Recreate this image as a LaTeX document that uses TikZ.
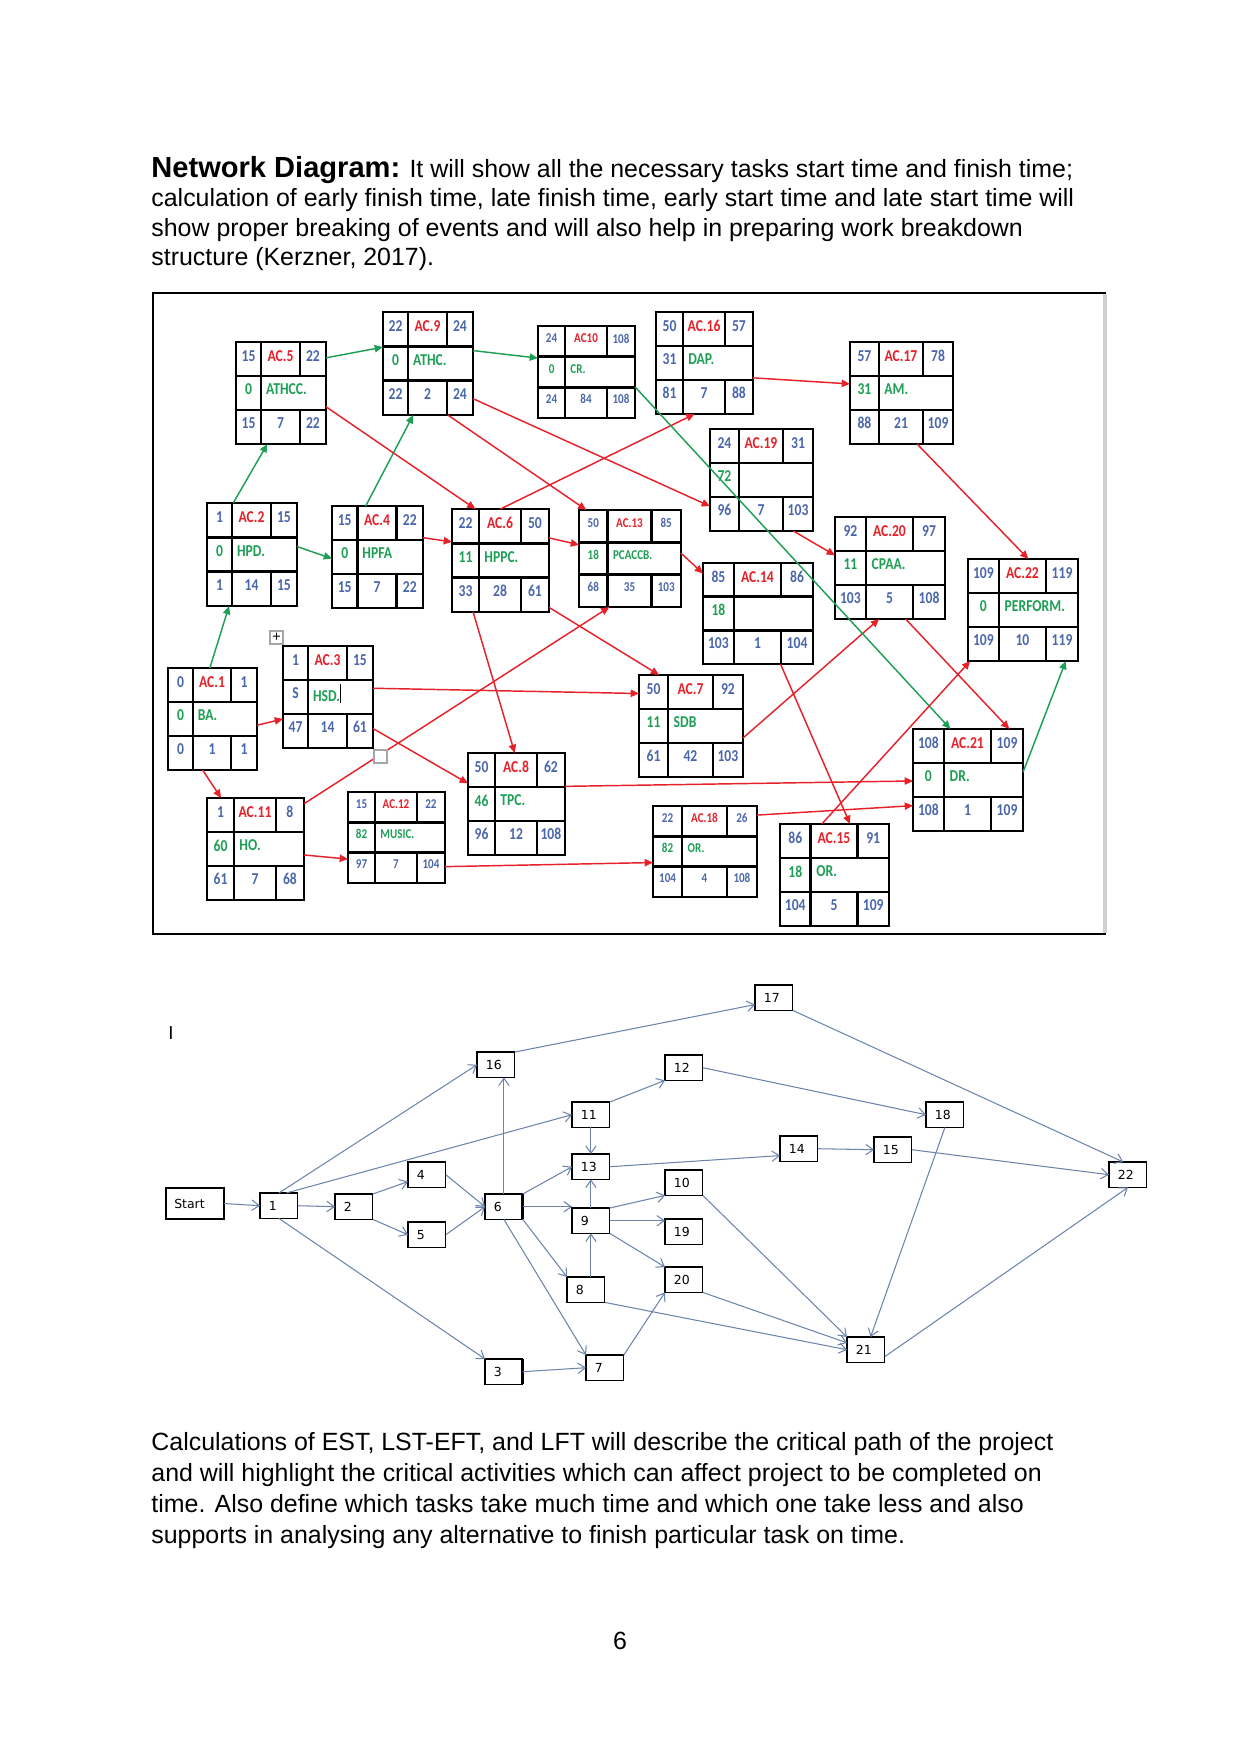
\documentclass[tikz,border=0pt]{standalone}
\usepackage{fontspec}
\setmainfont{Liberation Sans}
\newfontfamily\acfont{Carlito}[FakeStretch=0.82]
\newfontfamily\evfont{DejaVu Sans}
\usetikzlibrary{arrows.meta,calc}
\definecolor{acBlue}{HTML}{4A66AC}
\definecolor{acRed}{HTML}{E62129}
\definecolor{acGreen}{HTML}{1E9F55}
\definecolor{evLine}{HTML}{6C84AB}
\tikzset{
  bodytext/.style={font=\fontsize{12}{14.2}\selectfont, align=left, inner sep=0pt},
  acbox/.style={draw, line width=1.2pt, outer sep=0pt, inner sep=0pt, anchor=north west},
  acsize/.style 2 args={minimum width=#1*0.1692mm, minimum height=#2*0.1692mm},
  cellline/.style={line width=1.2pt},
  actext/.style={font=\acfont\bfseries\fontsize{8}{8}\selectfont},
  acnum/.style={actext, text=acBlue, inner sep=0pt},
  aclabel/.style={actext, text=acRed, inner sep=0pt},
  acfloat/.style={actext, text=acGreen, inner sep=0pt},
  acname/.style={actext, text=acGreen, inner sep=0pt, anchor=west},
  rlink/.style={draw=acRed, line width=0.7pt, -{Triangle[length=4pt,width=3.5pt]}},
  glink/.style={draw=acGreen, line width=0.7pt, -{Triangle[length=4pt,width=3.5pt]}},
  hdlbox/.style={draw=black!35, fill=white, line width=0.5pt, minimum size=2.2mm, inner sep=0pt},
  evbox/.style={draw, line width=0.6pt, anchor=north west, outer sep=0pt,
    font=\evfont\fontsize{6}{6}\selectfont, text width=3.4mm, inner xsep=1.5mm,
    inner ysep=0pt, minimum height=4.3mm, align=left},
  startbox/.style={text width=7.0mm, inner xsep=1.4mm, minimum height=5.25mm},
  evlink/.style={draw=evLine, line width=0.5pt, -{Straight Barb[length=3.5pt,width=5pt]}},
  evedge/.style={line width=1.3pt},
}
% box name, ES, activity, EF, float, name, LS, duration, LF
\newcommand{\acinfo}[9]{%
  \coordinate (#1-v1) at ($(#1.north west)!.28!(#1.north east)$);
  \coordinate (#1-v2) at ($(#1.north west)!.71!(#1.north east)$);
  \coordinate (#1-h1) at ($(#1.north west)!1/3!(#1.south west)$);
  \coordinate (#1-h2) at ($(#1.north west)!2/3!(#1.south west)$);
  \coordinate (#1-x1) at ($(#1.north west)!.14!(#1.north east)$);
  \coordinate (#1-x2) at ($(#1.north west)!.495!(#1.north east)$);
  \coordinate (#1-x3) at ($(#1.north west)!.855!(#1.north east)$);
  \coordinate (#1-xn) at ($(#1.north west)!.33!(#1.north east)$);
  \coordinate (#1-y1) at ($(#1.north west)!.135!(#1.south west)$);
  \coordinate (#1-y2) at ($(#1.north west)!.465!(#1.south west)$);
  \coordinate (#1-y3) at ($(#1.north west)!.795!(#1.south west)$);
  \draw[cellline] (#1-v1) -- (#1-v1 |- #1.south);
  \draw[cellline] (#1-v2) -- (#1-v2 |- #1-h1) (#1-v2 |- #1-h2) -- (#1-v2 |- #1.south);
  \draw[cellline] (#1-h1) -- (#1-h1 -| #1.east) (#1-h2) -- (#1-h2 -| #1.east);
  \node[acnum] (#1-es) at (#1-x1 |- #1-y1) {#2};
  \node[aclabel] (#1-id) at (#1-x2 |- #1-y1) {#3};
  \node[acnum] (#1-ef) at (#1-x3 |- #1-y1) {#4};
  \node[acfloat] (#1-fl) at (#1-x1 |- #1-y2) {#5};
  \node[acname] (#1-nm) at (#1-xn |- #1-y2) {#6};
  \node[acnum] (#1-ls) at (#1-x1 |- #1-y3) {#7};
  \node[acnum] (#1-du) at (#1-x2 |- #1-y3) {#8};
  \node[acnum] (#1-lf) at (#1-x3 |- #1-y3) {#9};
}

\begin{document}
\begin{tikzpicture}[x=0.1692mm, y=-0.1692mm]
\path[fill=white] (0,0) rectangle (1241,1754);

% ---- text above
\node[bodytext, anchor=north west] (intro) at (151,156)
  {{\fontsize{14}{14.2}\selectfont\bfseries Network Diagram:} It will show all the necessary tasks start time and finish time;\\
   calculation of early finish time, late finish time, early start time and late start time will\\
   show proper breaking of events and will also help in preparing work breakdown\\
   structure (Kerzner, 2017).};

% ---- frame of the activity network
\draw[line width=1.2pt] (1106,293) -- (153,293) -- (153,934) -- (1106,934);
\draw[line width=1.6pt, draw=black!18] (1105,294) -- (1105,933);

% ---- activity boxes
\node[acbox, acsize={89}{102}]  (ac1)  at (168,668) {};
\node[acbox, acsize={90}{103}]  (ac2)  at (207,503) {};
\node[acbox, acsize={90}{102}]  (ac3)  at (283,646) {};
\node[acbox, acsize={91}{102}]  (ac4)  at (332,506) {};
\node[acbox, acsize={90}{102}]  (ac5)  at (236,342) {};
\node[acbox, acsize={97}{103}]  (ac6)  at (452,509) {};
\node[acbox, acsize={104}{102}] (ac7)  at (639,675) {};
\node[acbox, acsize={97}{102}]  (ac8)  at (468,753) {};
\node[acbox, acsize={90}{103}]  (ac9)  at (383,312) {};
\node[acbox, acsize={97}{92}]   (ac10) at (538,326) {};
\node[acbox, acsize={97}{102}]  (ac11) at (207,798) {};
\node[acbox, acsize={97}{91}]   (ac12) at (348,792) {};
\node[acbox, acsize={102}{97}]  (ac13) at (579,510) {};
\node[acbox, acsize={110}{101}] (ac14) at (703,563) {};
\node[acbox, acsize={109}{102}] (ac15) at (780,824) {};
\node[acbox, acsize={97}{102}]  (ac16) at (656,312) {};
\node[acbox, acsize={103}{102}] (ac17) at (850,342) {};
\node[acbox, acsize={104}{91}]  (ac18) at (653,806) {};
\node[acbox, acsize={103}{102}] (ac19) at (710,429) {};
\node[acbox, acsize={110}{102}] (ac20) at (835,517) {};
\node[acbox, acsize={110}{102}] (ac21) at (913,729) {};
\node[acbox, acsize={110}{102}] (ac22) at (968,559) {};

\acinfo{ac1}{0}{AC.1}{1}{0}{BA.}{0}{1}{1}
\acinfo{ac2}{1}{AC.2}{15}{0}{HPD.}{1}{14}{15}
\acinfo{ac3}{1}{AC.3}{15}{\textcolor{acBlue}{S}}{HSD.\textcolor{black}{\rule[-0.2ex]{0.35pt}{2.3ex}}}{47}{14}{61}
\acinfo{ac4}{15}{AC.4}{22}{0}{HPFA}{15}{7}{22}
\acinfo{ac5}{15}{AC.5}{22}{0}{ATHCC.}{15}{7}{22}
\acinfo{ac6}{22}{AC.6}{50}{11}{HPPC.}{33}{28}{61}
\acinfo{ac7}{50}{AC.7}{92}{11}{SDB}{61}{42}{103}
\acinfo{ac8}{50}{AC.8}{62}{46}{TPC.}{96}{12}{108}
\acinfo{ac9}{22}{AC.9}{24}{0}{ATHC.}{22}{2}{24}
\acinfo{ac11}{1}{AC.11}{8}{60}{HO.}{61}{7}{68}
\acinfo{ac14}{85}{AC.14}{86}{18}{}{103}{1}{104}
\acinfo{ac15}{86}{AC.15}{91}{18}{OR.}{104}{5}{109}
\acinfo{ac16}{50}{AC.16}{57}{\textcolor{acBlue}{31}}{DAP.}{81}{7}{88}
\acinfo{ac17}{57}{AC.17}{78}{31}{AM.}{88}{21}{109}
\acinfo{ac19}{24}{AC.19}{31}{72}{}{96}{7}{103}
\acinfo{ac20}{92}{AC.20}{97}{11}{CPAA.}{103}{5}{108}
\acinfo{ac21}{108}{AC.21}{109}{0}{DR.}{108}{1}{109}
\acinfo{ac22}{109}{AC.22}{119}{0}{PERFORM.}{109}{10}{119}
\begin{scope}[actext/.style={font=\acfont\bfseries\fontsize{6.5}{6.5}\selectfont}]
  \acinfo{ac10}{24}{AC10}{108}{0}{CR.}{24}{84}{108}
  \acinfo{ac12}{15}{AC.12}{22}{82}{MUSIC.}{97}{7}{104}
  \acinfo{ac13}{50}{AC.13}{85}{18}{PCACCB.}{68}{35}{103}
  \acinfo{ac18}{22}{AC.18}{26}{82}{OR.}{104}{4}{108}
\end{scope}

% ---- links between activities
\draw[glink] (ac1.93) -- (ac2.246);
\draw[rlink] (ac1.352) -- (ac3.206);
\draw[rlink] (ac1.259) -- (ac11.124);
\draw[glink] (ac2.110) -- (ac5.255);
\draw[glink] (ac2.10) -- (ac4.182);
\draw[rlink] (ac3.11) -- (ac7.148);
\draw[rlink] (ac3.325) -- (ac8.157);
\draw[glink] (ac4.103) -- (ac9.254);
\draw[rlink] (ac4.23) -- (ac6.159);
\draw[glink] (ac5.38) -- (ac9.160);
\draw[rlink] (ac5.343) -- (ac6.116);
\draw[rlink] (ac6.north) -- (ac16.259);
\draw[rlink] (ac6.25) -- (ac13.165);
\draw[rlink] (ac6.242) -- (ac8.92);
\draw[rlink] (ac6.316) -- (ac7.122);
\draw[rlink] (ac7.347) -- (ac20.258);
\draw[rlink] (ac8.20) -- (ac21.181);
\draw[glink] (ac9.16) -- (ac10.164);
\draw[rlink] (ac9.291) -- (ac13.132);
\draw[rlink] (ac9.322) -- (ac19.207);
\draw[glink] (ac10.343) -- (ac21.109);
\draw[rlink] (ac11.43) -- (ac13.247);
\draw[rlink] (ac11.353) -- (ac12.204);
\draw[rlink] (ac12.329) -- (ac18.192);
\draw[rlink] (ac13.6) -- (ac14.144);
\draw[rlink] (ac14.294) -- (ac15.73);
\draw[rlink] (ac15.104) -- (ac22.224);
\draw[rlink] (ac16.343) -- (ac17.170);
\draw[rlink] (ac17.287) -- (ac22.84);
\draw[rlink] (ac18.35) -- (ac21.205);
\draw[rlink] (ac19.302) -- (ac20.167);
\draw[rlink] (ac20.287) -- (ac21.51);
\draw[glink] (ac21.8) -- (ac22.310);

% ---- table handles
\node[hdlbox] (movehdl) at (276.5,637.5) {\fontsize{7}{7}\selectfont +};
\node[hdlbox] (sizehdl) at (380.5,756.5) {};

% ---- event network
\node[font=\fontsize{9}{9}\selectfont] (cursor) at (171,1033) {I};
\node[evbox, startbox] (start) at (166,1188) {Start};
\node[evbox] (n1)  at (260,1193) {1};
\node[evbox] (n2)  at (335,1194) {2};
\node[evbox] (n4)  at (408,1162) {4};
\node[evbox] (n5)  at (408,1222) {5};
\node[evbox] (n6)  at (485,1194) {6};
\node[evbox] (n16) at (477,1052) {16};
\node[evbox] (n11) at (572,1102) {11};
\node[evbox] (n13) at (572,1154) {13};
\node[evbox] (n9)  at (572,1208) {9};
\node[evbox] (n8)  at (567,1277) {8};
\node[evbox] (n3)  at (485,1359) {3};
\node[evbox] (n7)  at (586,1355) {7};
\node[evbox] (n12) at (665,1055) {12};
\node[evbox] (n10) at (665,1170) {10};
\node[evbox] (n19) at (665,1219) {19};
\node[evbox] (n20) at (665,1267) {20};
\node[evbox] (n17) at (755,985)  {17};
\node[evbox] (n14) at (780,1136) {14};
\node[evbox] (n15) at (874,1137) {15};
\node[evbox] (n18) at (926,1102) {18};
\node[evbox] (n21) at (847,1337) {21};
\node[evbox] (n22) at (1109,1162) {22};
\draw[evedge] (n16.north west) -- (n16.south west);
\draw[evedge] (n8.north west) -- (n8.south west);
\draw[evedge] (n6.north east) -- (n6.south east);
\draw[evedge] (n3.north east) -- (n3.south east);

\draw[evlink] (start.east) -- (n1.west);
\draw[evlink] (n1.east) -- (n2.west);
\draw[evlink] (n1.north) -- (n16.west);
\draw[evlink] (n1.60) -- (n11.west);
\draw[evlink] (n1.south) -- (n3.north west);
\draw[evlink] (n2.north east) -- (n4.200);
\draw[evlink] (n2.south east) -- (n5.west);
\draw[evlink] (n4.east) -- (n6.west);
\draw[evlink] (n5.east) -- (n6.west);
\draw[evlink] (n6.north) -- (n6.north |- n16.south);
\draw[evlink] (n6.north east) -- (n13.west);
\draw[evlink] (n6.east) -- (n6.east -| n9.west);
\draw[evlink] (n6.south east) -- (n8.north west);
\draw[evlink] (n6.south) -- (n7.north west);
\draw[evlink] (n3.east) -- (n7.west);
\draw[evlink] (n11.south) -- (n13.north);
\draw[evlink] (n9.north) -- (n13.south);
\draw[evlink] (n9.south |- n8.north) -- (n9.south);
\draw[evlink] (n11.north east) -- (n12.south west);
\draw[evlink] (n13.east) -- (n14.200);
\draw[evlink] (n9.north east) -- (n10.south west);
\draw[evlink] (n9.east) -- (n9.east -| n19.west);
\draw[evlink] (n9.south east) -- (n20.north west);
\draw[evlink] (n7.north east) -- (n20.south west);
\draw[evlink] (n8.south east) -- (n21.west);
\draw[evlink] (n20.south east) -- (n21.160);
\draw[evlink] (n10.south east) -- (n21.north west);
\draw[evlink] (n18.south) -- (n21.70);
\draw[evlink] (n21.340) -- (n22.south);
\draw[evlink] (n16.north east) -- (n17.200);
\draw[evlink] (n17.south east) -- (n22.110);
\draw[evlink] (n12.east) -- (n18.west);
\draw[evlink] (n14.east) -- (n15.west);
\draw[evlink] (n15.east) -- (n22.west);

% ---- text below
\node[bodytext, font=\fontsize{12}{14.9}\selectfont, anchor=north west] (outro) at (151,1432)
  {Calculations of EST, LST-EFT, and LFT will describe the critical path of the project\\
   and will highlight the critical activities which can affect project to be completed on\\
   time. Also define which tasks take much time and which one take less and also\\
   supports in analysing any alternative to finish particular task on time.};
\node[font=\fontsize{12}{12}\selectfont] (pagenum) at (620,1641) {6};
\end{tikzpicture}
\end{document}
